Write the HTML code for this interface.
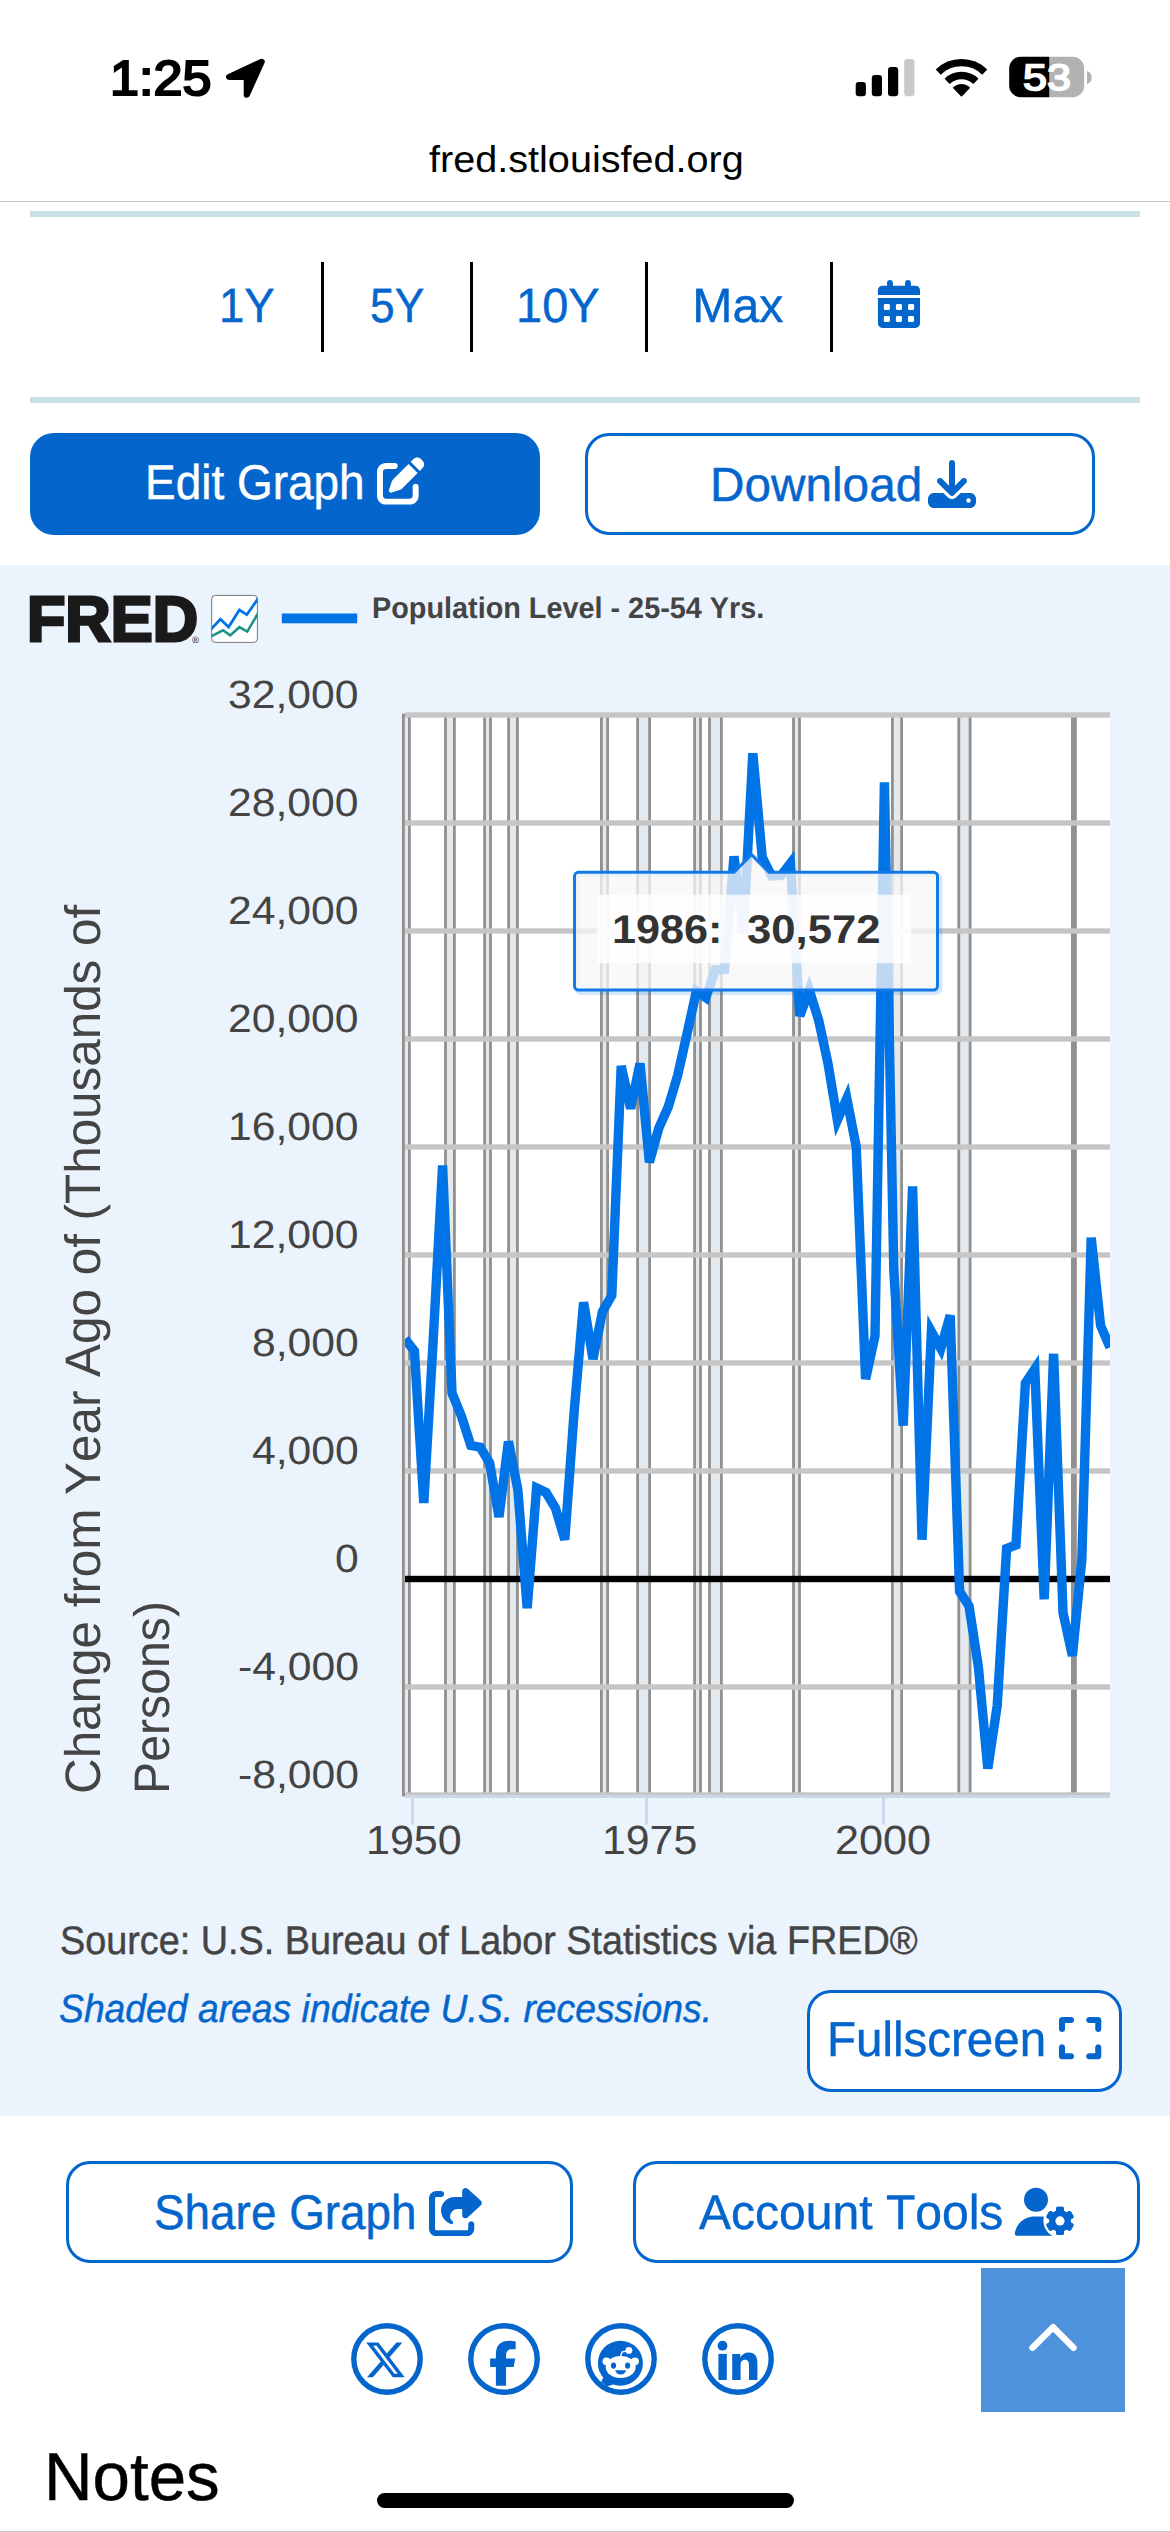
<!DOCTYPE html>
<html lang="en">
<head>
<meta charset="utf-8">
<meta name="viewport" content="width=1170">
<title>Population Level - 25-54 Yrs. | FRED | St. Louis Fed</title>
<style>
html,body{margin:0;padding:0;background:#fff;}
body{width:1170px;height:2532px;position:relative;overflow:hidden;font-family:"Liberation Sans",sans-serif;font-kerning:none;text-rendering:geometricPrecision;color:#000;}
.sec{position:absolute;left:0;top:0;width:1170px;height:0;margin:0;padding:0;}
.sec *{position:absolute;margin:0;padding:0;white-space:nowrap;font-weight:normal;font-style:normal;text-decoration:none;transform-origin:0 0;display:block;}
.sec svg *{position:static;}
.chartbg{left:0;top:565px;width:1170px;height:1551px;background:#ebf3fc;}
.teal{left:30px;width:1110px;height:6px;background:#cbe0e4;}
.sep{width:3.2px;top:262px;height:89.5px;background:#000;}
.btn{box-sizing:border-box;border:3px solid #0466cc;border-radius:24px;background:#fff;color:#0466cc;fill:#0466cc;}
.btn.solid{border:0;background:#0466cc;color:#fff;}
.soc{fill:#0466cc;}
.totop{background:#4f92dc;}
.ylabels,.xlabels,.ytitle{color:#444;left:0;top:0;}
.tip{color:#333;left:0;top:0;}
.home{left:377px;top:2493px;width:417px;height:15px;border-radius:7.5px;background:#000;}
.edge{left:0;top:2530.7px;width:1170px;height:1.3px;background:#c8c8c8;}
</style>
</head>
<body>
<header class="sec status">
<span class="time" style="left:109.73px;top:55px;font-size:49.13px;line-height:49.13px;transform:scaleX(1.0599);-webkit-text-stroke:2.2px;">1:25</span>
<svg aria-hidden="true" style="left:0px;top:0px" width="1170" height="200" viewBox="0 0 1170 200"><path d="M261.67,61.85 L229.1,76.97 L246.79,76.97 L246.79,94.67 Z" stroke="#000" stroke-width="6.15" stroke-linejoin="round"/><rect x="855.7" y="82" width="10.2" height="14.2" rx="3" fill="#000"/><rect x="871.8" y="75" width="10.2" height="21.2" rx="3" fill="#000"/><rect x="888" y="67" width="10.2" height="29.2" rx="3" fill="#000"/><rect x="904.2" y="59" width="10.2" height="37.2" rx="3" fill="#c9c9c9"/><path d="M938.24,72.05 A33.6,33.6 0 0 1 984.76,72.05" fill="none" stroke="#000" stroke-width="7.3"/><path d="M947.1,81.29 A20.8,20.8 0 0 1 975.9,81.29" fill="none" stroke="#000" stroke-width="7.3"/><path d="M961.5,96.3 L953.33,87.78 A11.8,11.8 0 0 1 969.67,87.78 Z" stroke="#000" stroke-width="1" stroke-linejoin="round"/><path d="M1049.3,56.8 H1072.7 a11.5,11.5 0 0 1 11.5,11.5 V85.7 a11.5,11.5 0 0 1 -11.5,11.5 H1049.3 Z" fill="#b2b2b2"/><path d="M1049.3,56.8 H1020.7 a11.5,11.5 0 0 0 -11.5,11.5 V85.7 a11.5,11.5 0 0 0 11.5,11.5 H1049.3 Z"/><path d="M1087,71 Q1091.6,72.5 1091.6,77.5 Q1091.6,82.5 1087,84 Z" fill="#b2b2b2"/></svg>
<span class="batt" style="left:1022.62px;top:60px;font-size:36.77px;line-height:36.77px;color:#fff;transform:scaleX(1.1743);-webkit-text-stroke:1.7px;">53</span>
</header>
<div class="sec urlbar">
<span class="host" style="left:428.54px;top:141px;font-size:37.26px;line-height:37.26px;transform:scaleX(1.0633);">fred.stlouisfed.org</span>
<i class="rule" style="left:0;top:201px;width:1170px;height:1.4px;background:#c9c9c9"></i>
</div>
<nav class="sec range">
<i class="teal" style="top:211px"></i>
<a style="left:219.05px;top:282px;font-size:48.18px;line-height:48.18px;color:#0466cc;transform:scaleX(0.9455);-webkit-text-stroke:0.45px;">1Y</a>
<i class="sep" style="left:320.8px"></i>
<a style="left:369.85px;top:282px;font-size:48.18px;line-height:48.18px;color:#0466cc;transform:scaleX(0.9197);-webkit-text-stroke:0.45px;">5Y</a>
<i class="sep" style="left:470.2px"></i>
<a style="left:515.64px;top:282px;font-size:48.18px;line-height:48.18px;color:#0466cc;transform:scaleX(0.9760);-webkit-text-stroke:0.45px;">10Y</a>
<i class="sep" style="left:645px"></i>
<a style="left:692.27px;top:282px;font-size:48.18px;line-height:48.18px;color:#0466cc;-webkit-text-stroke:0.45px;">Max</a>
<i class="sep" style="left:830px"></i>
<svg role="img" aria-label="Custom date range" style="left:860px;top:270px" width="80" height="70" viewBox="860 270 80 70"><g fill="#0466cc"><rect x="887" y="280" width="5.9" height="12" rx="2.95"/><rect x="905" y="280" width="5.9" height="12" rx="2.95"/><path d="M877.9,295 V290.3 a4.5,4.5 0 0 1 4.5,-4.5 H915.5 a4.5,4.5 0 0 1 4.5,4.5 V295 Z"/><path d="M877.9,298 H920 V323.4 a4.5,4.5 0 0 1 -4.5,4.5 H882.4 a4.5,4.5 0 0 1 -4.5,-4.5 Z"/><rect x="883.8" y="304" width="6.1" height="6.1" rx="1.4" fill="#fff"/><rect x="883.8" y="316" width="6.1" height="6.1" rx="1.4" fill="#fff"/><rect x="895.9" y="304" width="6.1" height="6.1" rx="1.4" fill="#fff"/><rect x="895.9" y="316" width="6.1" height="6.1" rx="1.4" fill="#fff"/><rect x="908" y="304" width="6.1" height="6.1" rx="1.4" fill="#fff"/><rect x="908" y="316" width="6.1" height="6.1" rx="1.4" fill="#fff"/></g></svg>
<i class="teal" style="top:397px"></i>
</nav>
<div class="sec actions">
<a class="btn solid" style="left:30px;top:433px;width:510px;height:102px;">
<span style="left:114.66px;top:26px;font-size:48.77px;line-height:48.77px;transform:scaleX(0.9420);-webkit-text-stroke:0.45px;">Edit Graph</span>
<svg aria-hidden="true" style="left:347px;top:24.3px" width="47.6" height="47.6" viewBox="0 0 512 512"><path d="M471.6 21.7c-21.9-21.9-57.3-21.9-79.2 0L362.3 51.7l97.9 97.9 30.1-30.1c21.9-21.9 21.9-57.3 0-79.2L471.6 21.7zm-299.2 220c-6.1 6.1-10.8 13.6-13.5 21.9l-29.6 88.8c-2.9 8.6-.6 18.1 5.8 24.6s15.9 8.7 24.6 5.8l88.8-29.6c8.2-2.7 15.7-7.4 21.9-13.5L437.7 172.3 339.7 74.3 172.4 241.7zM96 64C43 64 0 107 0 160V416c0 53 43 96 96 96H352c53 0 96-43 96-96V320c0-17.7-14.3-32-32-32s-32 14.3-32 32v96c0 17.7-14.3 32-32 32H96c-17.7 0-32-14.3-32-32V160c0-17.7 14.3-32 32-32h96c17.7 0 32-14.3 32-32s-14.3-32-32-32H96z" fill="#fff"/></svg>
</a>
<a class="btn" style="left:585px;top:433px;width:510px;height:102px;">
<span style="left:121.61px;top:26px;font-size:48.04px;line-height:48.04px;transform:scaleX(0.9934);-webkit-text-stroke:0.45px;">Download</span>
<svg aria-hidden="true" style="left:340.1px;top:23.8px" width="48" height="48" viewBox="0 0 512 512"><path d="M288 32c0-17.7-14.3-32-32-32s-32 14.3-32 32V274.7l-73.4-73.4c-12.5-12.5-32.8-12.5-45.3 0s-12.5 32.8 0 45.3l128 128c12.5 12.5 32.8 12.5 45.3 0l128-128c12.5-12.5 12.5-32.8 0-45.3s-32.8-12.5-45.3 0L288 274.7V32zM64 352c-35.3 0-64 28.7-64 64v32c0 35.3 28.7 64 64 64H448c35.3 0 64-28.7 64-64V416c0-35.3-28.7-64-64-64H346.5l-45.3 45.3c-25 25-65.5 25-90.5 0L165.5 352H64zm368 56a24 24 0 1 1 0 48 24 24 0 1 1 0-48z"/></svg>
</a>
</div>
<figure class="sec chart">
<i class="chartbg"></i>
<span class="logo" style="left:27.1px;top:588px;font-size:63.95px;line-height:63.95px;color:#1a1a1a;transform:scaleX(0.9825);font-weight:bold;-webkit-text-stroke:3px;">FRED</span>
<sup style="left:192.16px;top:636px;font-size:9.31px;line-height:9.31px;color:#1a1a1a;transform:scaleX(1.0193);">®</sup>
<svg aria-hidden="true" style="left:205px;top:590px" width="60" height="58" viewBox="205 590 60 58"><rect x="211.7" y="595.4" width="45.7" height="47" rx="3.6" fill="#fff" stroke="#777"/><svg x="211.7" y="595.4" width="45.7" height="47" viewBox="211.7 595.4 45.7 47"><g fill="none" stroke-width="2.8"><polyline points="210.5,629.8 220.4,619.3 228.6,627 239.4,610 246.8,614.7 259,597.3" stroke="#0073e6"/><polyline points="210.5,636.6 223,630.3 230.2,635.4 239.4,627.2 247.3,631.6 259,611.6" stroke="#1a9488" stroke-width="2.6"/></g></svg></svg>
<svg class="plot" aria-hidden="true" style="left:0;top:565px" width="1170" height="1551" viewBox="0 565 1170 1551">
<rect x="405" y="715" width="705" height="1080" fill="#fff"/>
<g class="recessions" stroke="#909090" stroke-width="2.8"><rect x="403.4" y="715" width="6" height="1080" fill="#e4e9ee"/><rect x="445.5" y="715" width="8.9" height="1080" fill="#e4e9ee"/><rect x="484.6" y="715" width="5.9" height="1080" fill="#e4e9ee"/><rect x="508.6" y="715" width="8.8" height="1080" fill="#e4e9ee"/><rect x="601.4" y="715" width="6.2" height="1080" fill="#e4e9ee"/><rect x="637.6" y="715" width="12" height="1080" fill="#e4e9ee"/><rect x="694.6" y="715" width="5.9" height="1080" fill="#e4e9ee"/><rect x="709.5" y="715" width="11.9" height="1080" fill="#e4e9ee"/><rect x="793.5" y="715" width="6" height="1080" fill="#e4e9ee"/><rect x="892.4" y="715" width="9.2" height="1080" fill="#e4e9ee"/><rect x="958.8" y="715" width="11.3" height="1080" fill="#e4e9ee"/><rect x="1072.4" y="715" width="3" height="1080" fill="#949494"/></g>
<g class="grid" fill="#c6c6c6"><rect x="405" y="712.3" width="705" height="5.4"/><rect x="405" y="820.3" width="705" height="5.4"/><rect x="405" y="928.3" width="705" height="5.4"/><rect x="405" y="1036.3" width="705" height="5.4"/><rect x="405" y="1144.3" width="705" height="5.4"/><rect x="405" y="1252.3" width="705" height="5.4"/><rect x="405" y="1360.3" width="705" height="5.4"/><rect x="405" y="1468.3" width="705" height="5.4"/><rect x="405" y="1684.3" width="705" height="5.4"/><rect x="405" y="1792.3" width="705" height="5.4"/></g>
<g class="xaxis" fill="#ccd6eb"><rect x="405" y="1795" width="705" height="2.8"/><rect x="411.1" y="1795" width="2.8" height="29.5"/><rect x="645.1" y="1795" width="2.8" height="29.5"/><rect x="882.1" y="1795" width="2.8" height="29.5"/></g>
<rect class="zero" x="405" y="1575.8" width="705" height="6.4"/>
<svg x="405" y="700" width="705" height="1100" viewBox="405 700 705 1100"><polyline class="series" points="405,1339 414.4,1351 423.8,1503 433.2,1340 442.6,1165.4 452,1393 461.4,1416 470.8,1445.5 480.2,1447.2 489.6,1462.8 499,1517 508.4,1441.5 517.8,1489.5 527.2,1608.2 536.6,1488 546,1492.5 555.4,1508 564.8,1539.6 574.2,1411 583.6,1302.3 593,1359 602.4,1311.6 611.8,1295.5 621.2,1066 630.6,1108.6 640,1063.5 649.4,1162.2 658.8,1128 668.2,1107 677.6,1075.5 687,1034 696.4,991 705.8,997.5 715.2,970 724.6,969.5 734,856.4 743.4,933 752.8,753.3 762.2,857 771.6,876 781,875.5 790.4,863.3 799.8,1016 809.2,990 818.6,1020 828,1063.6 837.4,1120 846.8,1098.5 856.2,1146.5 865.6,1379 875,1336 884.4,782.3 893.8,1270.5 903.2,1425.6 912.6,1186.4 922,1539.7 931.4,1331.5 940.8,1348.5 950.2,1315.4 959.6,1591.5 969,1606 978.4,1667 987.8,1768.6 997.2,1705.6 1006.6,1548.6 1016,1545 1025.4,1383 1034.8,1369 1044.2,1599.4 1053.6,1353.8 1063,1612.6 1072.4,1655.8 1081.8,1560 1091.2,1237.7 1100.6,1325.6 1110,1347.4" fill="none" stroke="#0073e6" stroke-width="9.4" stroke-miterlimit="4"/></svg>
<rect class="legend-line" x="281.8" y="613.5" width="75.4" height="9.8" fill="#0073e6"/>
<g class="tooltip"><path d="M578.5,872.3 H734 L751.5,854.6 L769,872.3 H933.5 a4,4 0 0 1 4,4 V986 a4,4 0 0 1 -4,4 H578.5 a4,4 0 0 1 -4,-4 V876.3 a4,4 0 0 1 4,-4 Z" transform="translate(2.5,2.5)" fill="none" stroke="#0073e6" stroke-opacity="0.17" stroke-width="5"/><path d="M578.5,872.3 H734 L751.5,854.6 L769,872.3 H933.5 a4,4 0 0 1 4,4 V986 a4,4 0 0 1 -4,4 H578.5 a4,4 0 0 1 -4,-4 V876.3 a4,4 0 0 1 4,-4 Z" fill="#f7f7f7" fill-opacity="0.77" stroke="#1479e8" stroke-width="3"/><rect x="597" y="894.7" width="314" height="68.5" fill="#fff" fill-opacity="0.8"/></g>
</svg>
<span class="legend" style="left:371.67px;top:594px;font-size:29.8px;line-height:29.8px;color:#444;transform:scaleX(0.9669);font-weight:bold;">Population Level - 25-54 Yrs.</span>
<div class="ylabels">
<span style="left:228.37px;top:676px;font-size:39.53px;line-height:39.53px;transform:scaleX(1.0801);">32,000</span>
<span style="left:228.37px;top:784px;font-size:39.53px;line-height:39.53px;transform:scaleX(1.0801);">28,000</span>
<span style="left:228.37px;top:892px;font-size:39.53px;line-height:39.53px;transform:scaleX(1.0801);">24,000</span>
<span style="left:228.37px;top:1000px;font-size:39.53px;line-height:39.53px;transform:scaleX(1.0801);">20,000</span>
<span style="left:228.37px;top:1108px;font-size:39.53px;line-height:39.53px;transform:scaleX(1.0801);">16,000</span>
<span style="left:228.37px;top:1216px;font-size:39.53px;line-height:39.53px;transform:scaleX(1.0801);">12,000</span>
<span style="left:252.12px;top:1324px;font-size:39.53px;line-height:39.53px;transform:scaleX(1.0801);">8,000</span>
<span style="left:252.12px;top:1432px;font-size:39.53px;line-height:39.53px;transform:scaleX(1.0801);">4,000</span>
<span style="left:335.22px;top:1540px;font-size:39.53px;line-height:39.53px;transform:scaleX(1.0801);">0</span>
<span style="left:237.9px;top:1648px;font-size:39.53px;line-height:39.53px;transform:scaleX(1.0801);">-4,000</span>
<span style="left:237.9px;top:1756px;font-size:39.53px;line-height:39.53px;transform:scaleX(1.0801);">-8,000</span>
</div>
<div class="xlabels">
<span style="left:366.22px;top:1820px;font-size:40.67px;line-height:40.67px;transform:scaleX(1.0584);">1950</span>
<span style="left:601.64px;top:1820px;font-size:40.67px;line-height:40.67px;transform:scaleX(1.0529);">1975</span>
<span style="left:835.03px;top:1820px;font-size:40.67px;line-height:40.67px;transform:scaleX(1.0629);">2000</span>
</div>
<div class="tip"><span style="left:611.68px;top:910px;font-size:40.1px;line-height:40.1px;transform:scaleX(1.0772);font-weight:bold;">1986:</span><b style="left:746.7px;top:910px;font-size:40.1px;line-height:40.1px;transform:scaleX(1.0889);font-weight:bold;">30,572</b></div>
<div class="ytitle"><span style="left:99.5px;top:1791.8px;width:0;height:0;transform:rotate(-90deg);"><span style="left:-2.51px;top:-41px;font-size:49.86px;line-height:49.86px;transform:scaleX(0.9902);">Change from Year Ago of (Thousands of</span></span><span style="left:168.7px;top:1790px;width:0;height:0;transform:rotate(-90deg);"><span style="left:-3.96px;top:-41px;font-size:49.86px;line-height:49.86px;transform:scaleX(0.9671);">Persons)</span></span></div>
<p style="left:59.51px;top:1922px;font-size:39.9px;line-height:39.9px;color:#444;transform:scaleX(0.9475);-webkit-text-stroke:0.45px;">Source: U.S. Bureau of Labor Statistics via FRED®</p>
<p style="left:59.17px;top:1990px;font-size:39.32px;line-height:39.32px;color:#0466cc;transform:scaleX(0.9487);font-style:italic;-webkit-text-stroke:0.45px;">Shaded areas indicate U.S. recessions.</p>
<a class="btn" style="left:807px;top:1990px;width:315px;height:102px;border-radius:24px;">
<span style="left:17.03px;top:22px;font-size:49.2px;line-height:49.2px;transform:scaleX(0.9656);-webkit-text-stroke:0.45px;">Fullscreen</span>
<svg aria-hidden="true" style="left:249.3px;top:20.68px" width="42.29" height="48.33" viewBox="0 0 448 512"><path d="M32 32C14.3 32 0 46.3 0 64v96c0 17.7 14.3 32 32 32s32-14.3 32-32V96h64c17.7 0 32-14.3 32-32s-14.3-32-32-32H32zM64 352c0-17.7-14.3-32-32-32s-32 14.3-32 32v96c0 17.7 14.3 32 32 32h96c17.7 0 32-14.3 32-32s-14.3-32-32-32H64V352zM320 32c-17.7 0-32 14.3-32 32s14.3 32 32 32h64v64c0 17.7 14.3 32 32 32s32-14.3 32-32V64c0-17.7-14.3-32-32-32H320zM448 352c0-17.7-14.3-32-32-32s-32 14.3-32 32v64H320c-17.7 0-32 14.3-32 32s14.3 32 32 32h96c17.7 0 32-14.3 32-32V352z"/></svg>
</a>
</figure>
<div class="sec share">
<a class="btn" style="left:66px;top:2161px;width:507px;height:102px;border-radius:24px;">
<span style="left:85.14px;top:25px;font-size:48.77px;line-height:48.77px;transform:scaleX(0.9405);-webkit-text-stroke:0.45px;">Share Graph</span>
<svg aria-hidden="true" style="left:360.06px;top:23.6px" width="54.32" height="48.28" viewBox="0 0 576 512"><path d="M352 224H305.5c-45 0-81.5 36.5-81.5 81.5c0 22.3 10.3 34.3 19.2 40.5c6.8 4.7 12.8 12 12.8 20.3c0 9.8-8 17.8-17.8 17.8h-2.5c-2.4 0-4.8-.4-7.1-1.4C210.8 374.8 128 333.4 128 240c0-79.5 64.5-144 144-144h80V34.7C352 15.5 367.5 0 386.7 0c8.6 0 16.8 3.2 23.2 8.9L548.1 133.3c7.6 6.8 11.9 16.5 11.9 26.7s-4.3 19.9-11.9 26.7l-139 125.1c-5.9 5.3-13.5 8.2-21.4 8.2H384c-17.7 0-32-14.3-32-32V224zM80 96c-8.8 0-16 7.2-16 16V432c0 8.8 7.2 16 16 16H400c8.8 0 16-7.2 16-16V384c0-17.7 14.3-32 32-32s32 14.3 32 32v48c0 44.2-35.8 80-80 80H80c-44.2 0-80-35.8-80-80V112C0 67.8 35.8 32 80 32h48c17.7 0 32 14.3 32 32s-14.3 32-32 32H80z"/></svg>
</a>
<a class="btn" style="left:633px;top:2161px;width:507px;height:102px;border-radius:24px;">
<span style="left:63.13px;top:25px;font-size:48.77px;line-height:48.77px;transform:scaleX(0.9850);-webkit-text-stroke:0.45px;">Account Tools</span>
<svg aria-hidden="true" style="left:369px;top:16px" width="80" height="65" viewBox="1005 2180 80 65"><circle cx="1036" cy="2199.85" r="12"/><path d="M1017.2,2235.8 C1015.5,2235.8 1014.6,2234.6 1014.9,2232.8 C1016.6,2223.3 1024.5,2216.5 1034,2216.5 H1041 C1046,2216.5 1050,2217.5 1053.8,2219.5 V2235.8 Z"/><circle cx="1060" cy="2220.9" r="16.6" fill="#fff"/><rect x="1056" y="2206.8" width="8" height="28.2" rx="1.8" transform="rotate(0 1060 2220.9)"/><rect x="1056" y="2206.8" width="8" height="28.2" rx="1.8" transform="rotate(60 1060 2220.9)"/><rect x="1056" y="2206.8" width="8" height="28.2" rx="1.8" transform="rotate(120 1060 2220.9)"/><rect x="1056" y="2206.8" width="8" height="28.2" rx="1.8" transform="rotate(180 1060 2220.9)"/><rect x="1056" y="2206.8" width="8" height="28.2" rx="1.8" transform="rotate(240 1060 2220.9)"/><rect x="1056" y="2206.8" width="8" height="28.2" rx="1.8" transform="rotate(300 1060 2220.9)"/><circle cx="1060" cy="2220.9" r="10.9"/><circle cx="1060" cy="2220.9" r="4.6" fill="#fff"/></svg>
</a>
</div>
<div class="sec social">
<a class="soc" style="left:347px;top:2318.9px;width:80px;height:80px"><svg role="img" aria-label="X" style="left:0px;top:0px" width="80" height="80" viewBox="347 2318.9 80 80"><circle cx="387" cy="2358.9" r="33.2" fill="none" stroke="#0466cc" stroke-width="5.4"/><path d="M389.2 48h70.6L305.6 224.2 487 464H345L233.7 318.6 106.5 464H35.8L200.7 275.5 26.8 48H172.4L272.9 180.9 389.2 48zM364.4 421.8h39.1L151.1 88h-42L364.4 421.8z" transform="translate(364,2338.37) scale(0.0835)"/></svg></a>
<a class="soc" style="left:463.8px;top:2318.9px;width:80px;height:80px"><svg role="img" aria-label="Facebook" style="left:0px;top:0px" width="80" height="80" viewBox="463.8 2318.9 80 80"><circle cx="503.8" cy="2358.9" r="33.2" fill="none" stroke="#0466cc" stroke-width="5.4"/><path d="M80 299.3V512H196V299.3h86.5l18-97.8H196V166.9c0-51.7 20.3-71.5 72.7-71.5c16.3 0 29.4 .4 37 1.2V7.9C291.4 4 256.4 0 236.2 0C129.3 0 80 50.5 80 159.4v42.1H14v97.8H80z" transform="translate(488.67,2340.7) scale(0.0877)"/></svg></a>
<a class="soc" style="left:581px;top:2318.9px;width:80px;height:80px"><svg role="img" aria-label="Reddit" style="left:0px;top:0px" width="80" height="80" viewBox="581 2318.9 80 80"><circle cx="621" cy="2358.9" r="33.2" fill="none" stroke="#0466cc" stroke-width="5.4"/><circle cx="620.4" cy="2363.1" r="22.5"/><path d="M603.6,2377 L601.2,2382 L607,2386.2 L613,2384.6 Z"/><g fill="#fff"><ellipse cx="620.7" cy="2366.9" rx="15" ry="11.1"/><circle cx="606.4" cy="2361.2" r="3.9"/><circle cx="635" cy="2361.2" r="3.9"/><circle cx="628.9" cy="2350.3" r="3.4"/></g><path d="M620.4,2356.3 L622.2,2351.8 L626.5,2351" fill="none" stroke="#fff" stroke-width="1.4"/><ellipse cx="613.5" cy="2365.5" rx="2.6" ry="3.1"/><ellipse cx="627.6" cy="2365.5" rx="2.6" ry="3.1"/><path d="M615.2,2370.1 H626.1 Q625,2374.3 620.7,2374.3 Q616.3,2374.3 615.2,2370.1 Z"/></svg></a>
<a class="soc" style="left:698.2px;top:2318.9px;width:80px;height:80px"><svg role="img" aria-label="LinkedIn" style="left:0px;top:0px" width="80" height="80" viewBox="698.2 2318.9 80 80"><circle cx="738.2" cy="2358.9" r="33.2" fill="none" stroke="#0466cc" stroke-width="5.4"/><circle cx="722.7" cy="2345.6" r="4.9"/><rect x="718.6" y="2353.8" width="8.4" height="26.1"/><path d="M732.4,2353.8 H740.5 V2357.3 C742,2354.5 745,2352.4 749,2352.4 C755.5,2352.4 757.6,2356.5 757.6,2363.5 V2379.9 H749.2 V2365.3 C749.2,2361.8 748.2,2359.6 745.2,2359.6 C742.2,2359.6 740.8,2361.7 740.8,2365.3 V2379.9 H732.4 Z"/></svg></a>
</div>
<div class="sec floating">
<a class="totop" style="left:981px;top:2268px;width:144px;height:144px"><svg role="img" aria-label="Back to top" style="left:0px;top:0px" width="144" height="144" viewBox="981 2268 144 144"><polyline points="1032.5,2347.7 1053.1,2327.2 1073.5,2347.7" fill="none" stroke="#fff" stroke-width="6.5" stroke-linecap="round" stroke-linejoin="round"/></svg></a>
</div>
<section class="sec notes">
<h2 style="left:44.31px;top:2444px;font-size:67.66px;line-height:67.66px;transform:scaleX(0.9941);-webkit-text-stroke:0.45px;">Notes</h2>
<i class="home"></i>
<i class="edge"></i>
</section>
</body>
</html>
